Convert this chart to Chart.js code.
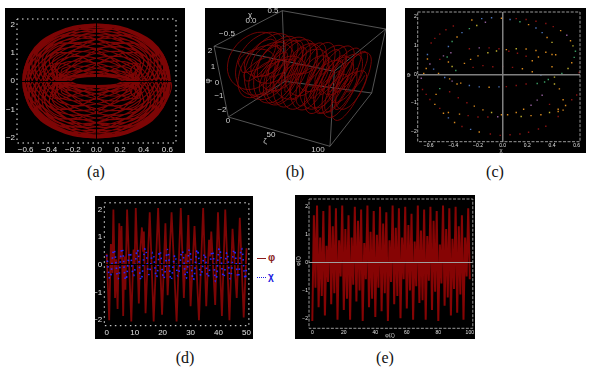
<!DOCTYPE html>
<html>
<head>
<meta charset="utf-8">
<style>
  html, body { margin: 0; background: #fff; }
  body { position: relative; width: 590px; height: 370px; overflow: hidden; }
  canvas { position: absolute; background: #000; filter: blur(0.4px); }
  .cap { position: absolute; transform: translate(-50%, -50%); font: 16px "Liberation Serif", serif; color: #111; }
  .key { position: absolute; font: bold 10px "Liberation Sans", sans-serif; }
  .dash { position: absolute; height: 0; width: 9px; }
</style>
</head>
<body>
<canvas id="panelA" width="180" height="145" style="left:5px;top:8px"></canvas>
<canvas id="panelB" width="181" height="145" style="left:205px;top:8px"></canvas>
<canvas id="panelC" width="181" height="145" style="left:405px;top:8px"></canvas>
<canvas id="panelD" width="158" height="143" style="left:95px;top:196px"></canvas>
<canvas id="panelE" width="180" height="144" style="left:295px;top:195px"></canvas>

<div class="cap" style="left:96px;top:172px">(a)</div>
<div class="cap" style="left:295px;top:172px">(b)</div>
<div class="cap" style="left:495px;top:172px">(c)</div>
<div class="cap" style="left:185px;top:358px">(d)</div>
<div class="cap" style="left:385px;top:358px">(e)</div>

<div class="dash" style="left:257px;top:258px;border-top:1.5px solid #8a1c1c"></div>
<div class="key" style="left:268px;top:252px;color:#8a1c1c">φ</div>
<div class="dash" style="left:257px;top:277px;border-top:1.5px dotted #2020e0"></div>
<div class="key" style="left:268px;top:271px;color:#2020e0">χ</div>

<script src="https://cdn.jsdelivr.net/npm/chart.js@4/dist/chart.umd.min.js"></script>
<script>
// trajectory, one sample after another, three passes
var chiFirst = [
  .62,.53,.27,-.06,-.37,-.56,-.57,-.40,-.13,.18,.40,.49,.42,.21,-.04,-.26,-.37,-.34,-.31,.02,.20,.30,.31,.15,-.07,-.31,-.33,-.29,-.13,.10,.31,.43,.40,.22,-.04,-.32,-.50,-.54,-.40,-.12,.20,.48,.61,.55,.33,0,
  -.33,-.55,-.61,-.48,-.20,.12,.40,.54,.50,.32,.04,-.22,-.40,-.43,-.31,-.10,.13,.29,.33,.31,.07,-.15,-.31,-.30,-.20,-.02,.31,.34,.37,.26,.04,-.21,-.42,-.49,-.40,-.18,.13,.40,.57,.56,.37,.06,-.27,-.53,-.62,
  -.53,-.27,.06,.37,.56,.57,.40,.13,-.18,-.40,-.49,-.42,-.21,.04,.26,.37,.34,.31,-.02,-.20,-.30,-.31,-.15,.07,.31,.33,.29,.13,-.10,-.31,-.43,-.40,-.22,.04,.32,.50,.54,.40,.12,-.20,-.48,-.61,-.55,-.33,0,
  .33,.55,.61,.48,.20,-.12,-.40,-.54,-.50,-.32,-.04,.22,.40,.43,.31,.10,-.13,-.29,-.33,-.31,-.07,.15,.31,.30,.20,.02,-.31,-.34,-.37,-.26,-.04,.21,.42,.49,.40,.18,-.13,-.40,-.57,-.56,-.37,-.06,.27,.53,.62
];
var phiFirst = [
  0,1.00,1.72,1.96,1.65,.91,-.04,-.92,-1.50,-1.62,-1.30,-.66,.07,.68,1.01,1.00,.72,.29,-.04,-.33,-.35,-.21,-.01,.17,.17,-.06,-.37,-.62,-.70,-.52,-.09,.49,1.03,1.34,1.28,.82,.06,-.80,-1.51,-1.83,-1.65,-.99,-.02,.98,1.72,2.00,
  1.72,.98,-.02,-.99,-1.65,-1.83,-1.51,-.80,.06,.82,1.28,1.34,1.03,.49,-.09,-.52,-.70,-.62,-.37,-.06,.17,.17,-.01,-.21,-.35,-.33,-.04,.29,.72,1.00,1.01,.68,.07,-.66,-1.30,-1.62,-1.50,-.92,-.04,.91,1.65,1.96,1.72,1.00,0,
  -1.00,-1.72,-1.96,-1.65,-.91,.04,.92,1.50,1.62,1.30,.66,-.07,-.68,-1.01,-1.00,-.72,-.29,.04,.33,.35,.21,.01,-.17,-.17,.06,.37,.62,.70,.52,.09,-.49,-1.03,-1.34,-1.28,-.82,-.06,.80,1.51,1.83,1.65,.99,.02,-.98,-1.72,-2.00,
  -1.72,-.98,.02,.99,1.65,1.83,1.51,.80,-.06,-.82,-1.28,-1.34,-1.03,-.49,.09,.52,.70,.62,.37,.06,-.17,-.17,.01,.21,.35,.33,.04,-.29,-.72,-1.00,-1.01,-.68,-.07,.66,1.30,1.62,1.50,.92,.04,-.91,-1.65,-1.96,-1.72,-1.00,0
];
var chiSecond = [
  .55,.34,.06,-.23,-.45,-.57,-.54,-.40,-.18,.07,.28,.41,.45,.39,.26,.10,-.06,-.22,-.31,-.31,-.30,-.25,-.17,-.07,.05,.18,.29,.36,.37,.31,.18,-.01,-.22,-.40,-.51,-.50,-.38,-.15,.12,.38,.56,.61,.51,.29,0,
  -.29,-.51,-.61,-.56,-.38,-.12,.15,.38,.50,.51,.40,.22,.01,-.18,-.31,-.37,-.36,-.29,-.18,-.05,.07,.17,.25,.30,.31,.31,.22,.06,-.10,-.26,-.39,-.45,-.41,-.28,-.07,.18,.40,.54,.57,.45,.23,-.06,-.34,-.55,-.62,
  -.55,-.34,-.06,.23,.45,.57,.54,.40,.18,-.07,-.28,-.41,-.45,-.39,-.26,-.10,.06,.22,.31,.31,.30,.25,.17,.07,-.05,-.18,-.29,-.36,-.37,-.31,-.18,.01,.22,.40,.51,.50,.38,.15,-.12,-.38,-.56,-.61,-.51,-.29,0,
  .29,.51,.61,.56,.38,.12,-.15,-.38,-.50,-.51,-.40,-.22,-.01,.18,.31,.37,.36,.29,.18,.05,-.07,-.17,-.25,-.30,-.31,-.31,-.22,-.06,.10,.26,.39,.45,.41,.28,.07,-.18,-.40,-.54,-.57,-.45,-.23,.06,.34,.55,.62
];
var phiSecond = [
  .99,1.71,1.96,1.68,.97,.04,-.84,-1.44,-1.62,-1.36,-.78,-.07,.55,.93,1.00,.80,.45,.17,-.12,-.25,-.21,-.17,-.17,-.17,-.26,-.47,-.62,-.60,-.36,.09,.63,1.11,1.34,1.21,.71,-.06,-.89,-1.55,-1.83,-1.61,-.94,.02,1.00,1.73,2.00,
  1.73,1.00,.02,-.94,-1.61,-1.83,-1.55,-.89,-.06,.71,1.21,1.34,1.11,.63,.09,-.36,-.60,-.62,-.47,-.26,-.17,-.17,-.17,-.21,-.25,-.12,.17,.45,.80,1.00,.93,.55,-.07,-.78,-1.36,-1.62,-1.44,-.84,.04,.97,1.68,1.96,1.71,.99,0,
  -.99,-1.71,-1.96,-1.68,-.97,-.04,.84,1.44,1.62,1.36,.78,.07,-.55,-.93,-1.00,-.80,-.45,-.17,.12,.25,.21,.17,.17,.17,.26,.47,.62,.60,.36,-.09,-.63,-1.11,-1.34,-1.21,-.71,.06,.89,1.55,1.83,1.61,.94,-.02,-1.00,-1.73,-2.00,
  -1.73,-1.00,-.02,.94,1.61,1.83,1.55,.89,.06,-.71,-1.21,-1.34,-1.11,-.63,-.09,.36,.60,.62,.47,.26,.17,.17,.17,.21,.25,.12,-.17,-.45,-.80,-1.00,-.93,-.55,.07,.78,1.36,1.62,1.44,.84,-.04,-.97,-1.68,-1.96,-1.71,-.99,0
];
var chiThird = [
  .30,.24,.07,-.13,-.29,-.35,-.27,-.08,.16,.36,.46,.40,.20,-.08,-.36,-.54,-.55,-.38,-.09,.24,.50,.62,.54,.30,-.03,-.35,-.56,-.59,-.44,-.17,.15,.40,.52,.46,.27,0,-.24,-.39,-.38,-.31,-.04,.17,.29,.30,.30,0,
  -.30,-.30,-.29,-.17,.04,.31,.38,.39,.24,0,-.27,-.46,-.52,-.40,-.15,.17,.44,.59,.56,.35,.03,-.30,-.54,-.62,-.50,-.24,.09,.38,.55,.54,.36,.08,-.20,-.40,-.46,-.36,-.16,.08,.27,.35,.29,.13,-.07,-.24,-.30,
  -.24,-.07,.13,.29,.35,.27,.08,-.16,-.36,-.46,-.40,-.20,.08,.36,.54,.55,.38,.09,-.24,-.50,-.62,-.54,-.30,.03,.35,.56,.59,.44,.17,-.15,-.40,-.52,-.46,-.27,0,.24,.39,.38,.31,.04,-.17,-.29,-.30,-.30,0,
  .30,.30,.29,.17,-.04,-.31,-.38,-.39,-.24,0,.27,.46,.52,.40,.15,-.17,-.44,-.59,-.56,-.35,-.03,.30,.54,.62,.50,.24,-.09,-.38,-.55,-.54,-.36,-.08,.20,.40,.46,.36,.16,-.08,-.27,-.35,-.29,-.13,.07,.24,.30
];
var phiThird = [
  0,.17,.22,.17,-.19,-.55,-.81,-.86,-.60,-.08,.58,1.17,1.49,1.40,.88,.05,-.86,-1.59,-1.90,-1.69,-1.00,-.01,1.00,1.73,1.99,1.70,.95,-.03,-.96,-1.58,-1.73,-1.41,-.74,.07,.76,1.15,1.18,.88,.39,-.09,-.42,-.53,-.42,-.19,0,.16,
  0,-.19,-.42,-.53,-.42,-.09,.39,.88,1.18,1.15,.76,.07,-.74,-1.41,-1.73,-1.58,-.96,-.03,.95,1.70,1.99,1.73,1.00,-.01,-1.00,-1.69,-1.90,-1.59,-.86,.05,.88,1.40,1.49,1.17,.58,-.08,-.60,-.86,-.81,-.55,-.19,.17,.22,.17,0,
  -.17,-.22,-.17,.19,.55,.81,.86,.60,.08,-.58,-1.17,-1.49,-1.40,-.88,-.05,.86,1.59,1.90,1.69,1.00,.01,-1.00,-1.73,-1.99,-1.70,-.95,.03,.96,1.58,1.73,1.41,.74,-.07,-.76,-1.15,-1.18,-.88,-.39,.09,.42,.53,.42,.19,0,-.16,
  0,.19,.42,.53,.42,.09,-.39,-.88,-1.18,-1.15,-.76,-.07,.74,1.41,1.73,1.58,.96,.03,-.95,-1.70,-1.99,-1.73,-1.00,.01,1.00,1.69,1.90,1.59,.86,-.05,-.88,-1.40,-1.49,-1.17,-.58,.08,.60,.86,.81,.55,.19,-.17,-.22,-.17,0
];
var chiTrace = chiFirst.concat(chiSecond, chiThird);
var phiTrace = phiFirst.concat(phiSecond, phiThird);

// outer edge of panel (a)
var edgeChi = [.62,.60,.545,.40,.22,0,-.22,-.40,-.545,-.60,-.62,-.60,-.545,-.40,-.22,0,.22,.40,.545,.60,.62];
var edgePhi = [0,.5,1,1.5,1.85,1.99,1.85,1.5,1,.5,0,-.5,-1,-1.5,-1.85,-1.99,-1.85,-1.5,-1,-.5,0];
// small rings around the two foci of panel (a)
var ringChi = [
  [-.365,-.372,-.39,-.408,-.415,-.408,-.39,-.372,-.365],
  [-.33,-.348,-.39,-.432,-.45,-.432,-.39,-.348,-.33],
  [.355,.348,.33,.312,.305,.312,.33,.348,.355],
  [.39,.372,.33,.288,.27,.288,.33,.372,.39]
];
var ringPhi = [
  [0,.2,.28,.2,0,-.2,-.28,-.2,0],
  [0,.39,.55,.39,0,-.39,-.55,-.39,0],
  [0,.2,.28,.2,0,-.2,-.28,-.2,0],
  [0,.39,.55,.39,0,-.39,-.55,-.39,0]
];

// panel (c) section points, [chi, phi], one list per colour
var sectionRed = [[.11,1.94],[.19,1.91],[.27,1.85],[.35,1.77],[.41,1.66],[-.40,1.68],[-.46,1.55],[-.51,1.40],[-.55,1.25],[-.58,1.09],[-.51,.52],[-.27,.89],[-.11,.92],[-.03,.89],[.05,.80],[.12,.73],[.19,.63],[-.24,.24],[-.16,.30],[-.08,.26],[0,.27],[.08,.24],[.62,.06],[-.65,-.53],[-.62,-.70],[-.59,-.88],[-.51,-1.19],[-.33,-1.82],[-.10,-2.08],[-.02,-2.13],[.06,-2.11],[.14,-2.08],[.21,-2.02],[.29,-1.91],[.35,-1.81],[.45,-1.47],[.56,-.89],[.60,-.72],[.03,-.43],[.11,-.39],[.19,-.34],[-.28,-1.44],[-.20,-1.49],[-.12,-1.49],[-.29,-.99],[-.36,-.82],[-.43,-.61],[.38,-1.05]];
var sectionOrange = [[-.25,1.89],[-.01,1.95],[-.37,1.30],[.21,1.73],[.36,1.28],[.47,1.52],[.55,1.17],[-.61,.53],[-.52,.03],[-.64,.03],[-.62,.20],[.03,.86],[.19,.88],[.27,.83],[.35,.77],[.40,.69],[.43,.68],[-.44,.43],[-.31,.38],[-.26,.52],[-.20,.64],[.24,.47],[.29,.60],[.40,.26],[.56,.40],[.16,.19],[.24,.09],[-.55,-1.05],[-.48,-1.36],[-.39,-1.68],[-.19,-2.01],[.49,-1.25],[.51,-1.09],[.49,-.89],[.46,-.51],[-.43,-.16],[-.37,-.34],[-.34,-.31],[-.11,-.45],[-.54,-.70],[-.44,-1.33],[-.35,-1.39],[-.16,-1.24],[-.23,-1.11],[-.01,-1.41],[.04,-1.41],[.23,-1.44],[.31,-1.41],[.45,-1.30],[.45,-1.22],[.17,-1.22],[.11,-1.33]];
var sectionBlue = [[-.17,1.94],[-.09,1.97],[.06,1.91],[-.33,1.45],[-.44,.97],[.27,1.61],[.32,1.45],[-.61,.69],[-.56,.18],[-.44,-1.52],[-.26,-1.92],[-.47,-.11],[-.27,-.39],[-.19,-.44],[-.03,-.44],[.31,-.03]];
var sectionPurple = [[-.14,1.81],[-.59,.36],[-.48,.64],[-.42,.75],[-.19,.92],[.52,1.36],[-.66,-.14],[-.41,-.24],[-.04,-1.48],[.32,-.73],[.28,-.90],[.23,-1.08]];
var sectionGreen = [[-.27,1.59],[-.41,1.14],[.14,1.83],[.59,.80],[.58,.59],[-.45,.60],[-.38,.13],[.48,.03],[.28,-.32],[.34,-.27],[-.51,-.50],[.37,-.18]];
var sectionOlive = [[-.21,1.70],[.40,1.11],[.57,.99],[.11,.89],[-.41,.27],[-.12,.75],[-.05,.81],[.53,.20],[.42,-.34],[.42,-.10],[-.09,-1.33],[.15,-1.47],[.38,-1.33]];

// panel (d) turning points
var phiTimes = [0,.9,1.5,2,2.4,3,3.4,3.9,4.5,4.9,5.3,5.9,6.3,6.7,7.3,8.8,9.6,10,10.4,11.5,12,12.6,13,13.3,13.9,15.4,16.8,18.4,19.8,21,21.8,23.2,25,26.5,27.6,28.2,28.6,29.2,30,31.4,33,34.5,35.6,36.6,37,37.4,38.8,39.8,41.2,42.4,43.9,45,46.5,47.6,49,50];
var phiValues = [.4,-2,.75,-.3,2,-1.2,.2,-1.6,1.5,.2,1.4,-1.85,.3,-.9,2,-2.05,.55,0,2.05,-1.4,.5,1.35,.5,1.2,-1.75,1.9,-2.05,2.05,-1.8,1.5,-1.1,1.9,-2.05,2.05,-1.2,.4,-.2,1.8,-1.5,1.4,-2,2.05,-1.5,.9,.3,1.2,-1.45,1.9,-1.85,2,-2,1.3,-1.2,1.7,-1.9,.6];
var chiTimes = [0,1.2,2.6,4.1,5.5,6.8,8.3,9.6,11,12.3,13.8,15.1,16.5,17.8,19,20.4,21.8,23,24.4,25.5,27,28.4,29.6,31,32.4,33.7,35,36.2,37.8,39,40.3,41.8,43,44.2,45.6,47,48.2,49.5,50];
var chiValues = [.35,-.5,.55,-.5,.6,-.55,.45,-.4,.55,-.55,.6,-.35,.45,-.45,.5,-.5,.55,-.55,.35,-.4,.5,-.5,.55,-.55,.55,-.4,.4,-.45,.5,-.6,.6,-.45,.45,-.5,.55,-.45,.6,-.5,-.1];

// panel (e), one value per unit of zeta
var longPhi = [
  -2.1,1.7,-.9,2.05,-1.6,.9,-1.2,1.85,-1.9,.6,-.7,2.05,
  -1.5,1.3,-1.1,1.95,-2.05,.8,-.5,2.05,-1.7,1.2,-1.3,1.7,
  -2.05,.9,-.8,2,-1.4,1.5,-1,1.9,-2.1,.7,-.6,2.05,
  -1.6,1.1,-1.3,1.85,-1.95,1,-.9,2,-1.75,1.4,-1.1,1.8,
  -2.1,.8,-.7,2.05,-1.5,1.25,-1.2,1.95,-2,.9,-.6,2,
  -1.65,1.35,-1,1.75,-2.05,.75,-.85,2.05,-1.45,1.15,-1.35,1.9,
  -2.05,.95,-.65,2,-1.7,1.5,-1.05,1.85,-2.1,.65,-.75,2.05,
  -1.55,1.2,-1.25,1.95,-1.9,.85,-.95,2,-1.8,1.3,-1.15,1.7,
  -2.05,.9,-.5,1.95,-.6
];

var chiTicksA = [-.6,-.4,-.2,0,.2,.4,.6];
var chiLabelsA = ['−0.6','−0.4','−0.2','0.0','0.2','0.4','0.6'];
var phiTicks = [-2,-1,0,1,2];
var phiLabels = ['−2','−1','0','1','2'];
var zetaTicksD = [0,10,20,30,40,50];
var zetaTicksE = [0,20,40,60,80,100];

var RED = '#7d0505';
var DOT = '#8a1212';

function pairs(xs, ys) {
  return xs.map(function (x, i) { return { x: x, y: ys[i] }; });
}
function curve(points, width, extra) {
  return Object.assign({ data: points, showLine: true, borderColor: RED, borderWidth: width, pointRadius: 0, tension: 0 }, extra || {});
}
function dots(points, color) {
  return { data: points.map(function (p) { return { x: p[0], y: p[1] }; }), pointStyle: 'rect', pointRadius: 1, pointBorderWidth: 0, pointBackgroundColor: color, showLine: false };
}

// fixes the plot rectangle, draws the dotted frame and any loose labels
function panel(id, c) {
  var canvas = document.getElementById(id);
  var area = c.area;
  var framePlugin = {
    id: 'frame',
    afterDraw: function (chart) {
      var ctx = chart.ctx;
      ctx.save();
      if (c.frame) {
        var a = chart.chartArea;
        ctx.strokeStyle = c.frame.color;
        ctx.lineWidth = c.frame.width;
        ctx.setLineDash(c.frame.dash);
        ctx.strokeRect(a.left, a.top, a.right - a.left, a.bottom - a.top);
        ctx.setLineDash([]);
      }
      (c.notes || []).forEach(function (n) {
        ctx.save();
        ctx.translate(n.x, n.y);
        if (n.rot) ctx.rotate(n.rot);
        ctx.font = n.font || '8px "Liberation Sans"';
        ctx.fillStyle = n.color || '#cfcfcf';
        ctx.textAlign = 'center';
        ctx.textBaseline = 'middle';
        ctx.fillText(n.t, 0, 0);
        ctx.restore();
      });
      ctx.restore();
    }
  };
  function axis(s, side) {
    var zero = s.zero || 'transparent';
    var o = {
      type: 'linear', min: s.min, max: s.max, reverse: !!s.reverse,
      display: s.display !== false,
      border: { display: false },
      grid: {
        z: 1, drawTicks: false, lineWidth: s.zeroWidth || 1,
        color: function (g) { return g.tick && g.tick.value === 0 ? zero : 'transparent'; }
      },
      ticks: {
        autoSkip: false, maxRotation: 0, minRotation: 0, padding: s.pad === undefined ? 2 : s.pad, color: s.tickColor || '#e0e0e0',
        font: { family: 'Liberation Sans', size: s.size || 8 },
        callback: function (v, i) { return s.labels ? s.labels[i] : v; }
      },
      afterFit: function (scale) {
        if (side === 'x') scale.height = canvas.height - area.bottom;
        else scale.width = area.left;
      }
    };
    if (s.ticks) o.afterBuildTicks = function (scale) { scale.ticks = s.ticks.map(function (v) { return { value: v }; }); };
    return o;
  }
  new Chart(canvas, {
    type: 'scatter',
    data: { datasets: c.datasets },
    plugins: [framePlugin],
    options: {
      responsive: false,
      animation: false,
      layout: { autoPadding: false, padding: { left: 0, top: area.top, right: canvas.width - area.right, bottom: 0 } },
      plugins: { legend: { display: false }, tooltip: { enabled: false } },
      scales: { x: axis(c.x, 'x'), y: axis(c.y, 'y') }
    }
  });
}

// --- (a)
var ringsA = ringChi.map(function (r, i) { return curve(pairs(r, ringPhi[i]), 1.2, { tension: .4 }); });
panel('panelA', {
  area: { left: 12, right: 171, top: 11, bottom: 135 },
  frame: { color: '#f0f0f0', width: 1, dash: [1.5, 3.5] },
  x: { min: -.673, max: .673, ticks: chiTicksA, labels: chiLabelsA, zero: '#000' },
  y: { min: -2.19, max: 2.19, ticks: phiTicks, labels: phiLabels, zero: '#000' },
  datasets: [curve(pairs(chiTrace, phiTrace), 1.15, { tension: .4 }), curve(pairs(edgeChi, edgePhi), 2.4, { tension: .4 })].concat(ringsA)
});

// --- (b) the box is a perspective view, so each corner gets a spot in the panel
var corners = {
  '000': [9, 38.3], '010': [77.3, 2.7], '100': [129.3, 63.3], '110': [180.7, 21],
  '001': [23.3, 109], '011': [80, 73.3], '101': [125, 138.3], '111': [166.7, 85]
};
function project(zeta, chi, phi) {
  var u = zeta / 100, v = (chi + .75) / 1.5, w = (2.4 - phi) / 4.8;
  var out = [0, 0];
  [0, 1].forEach(function (a) {
    [0, 1].forEach(function (b) {
      [0, 1].forEach(function (d) {
        var k = (a ? u : 1 - u) * (b ? v : 1 - v) * (d ? w : 1 - w);
        var p = corners['' + a + b + d];
        out[0] += k * p[0];
        out[1] += k * p[1];
      });
    });
  });
  return { x: out[0], y: out[1] };
}
var boxEdges = [['000','010'],['010','110'],['110','100'],['100','000'],['001','101'],['101','111'],['111','011'],['011','001'],['000','001'],['100','101'],['110','111'],['010','011']];
var boxLines = boxEdges.map(function (e) {
  var p = corners[e[0]], q = corners[e[1]];
  return curve([{ x: p[0], y: p[1] }, { x: q[0], y: q[1] }], .7, { borderColor: '#777', order: 2 });
});
var helix = chiTrace.map(function (chi, i) { return project(i * 100 / (chiTrace.length - 1), chi, phiTrace[i]); });
panel('panelB', {
  area: { left: 0, right: 181, top: 0, bottom: 145 },
  x: { min: 0, max: 181, display: false },
  y: { min: 0, max: 145, reverse: true, display: false },
  notes: [
    { t: 'χ', x: 45, y: 7 }, { t: '0.5', x: 68, y: 3 }, { t: '0.0', x: 46, y: 13 }, { t: '−0.5', x: 22, y: 26 },
    { t: '2', x: 5, y: 43 }, { t: '1', x: 8, y: 59 }, { t: '0', x: 12, y: 75 }, { t: '−1', x: 14, y: 88 }, { t: '−2', x: 17, y: 102 },
    { t: 'φ', x: 3, y: 73, rot: -Math.PI / 2 },
    { t: '0', x: 23, y: 113 }, { t: '50', x: 66, y: 127 }, { t: '100', x: 113, y: 142 }, { t: 'ζ', x: 60, y: 133 }
  ],
  datasets: [curve(helix, .9, { tension: .4, order: 1 })].concat(boxLines)
});

// --- (c)
panel('panelC', {
  area: { left: 12.7, right: 175, top: 1, bottom: 133.7 },
  frame: { color: '#999', width: 1, dash: [3, 1.5] },
  x: { min: -.689, max: .627, ticks: chiTicksA, labels: chiLabelsA, zero: '#808080', zeroWidth: 1.5, size: 5, pad: 1 },
  y: { min: -2.35, max: 2.17, ticks: phiTicks, labels: phiLabels, zero: '#808080', zeroWidth: 1.5, size: 5, pad: 1 },
  notes: [{ t: 'χ', x: 96, y: 142, font: '6px "Liberation Sans"' }, { t: 'φ', x: 3, y: 67, rot: -Math.PI / 2, font: '6px "Liberation Sans"' }],
  datasets: [
    dots(sectionRed, DOT), dots(sectionOrange, '#d88a1e'), dots(sectionBlue, '#4a72b8'),
    dots(sectionPurple, '#8f5c98'), dots(sectionGreen, '#3a9c62'), dots(sectionOlive, '#bcae30')
  ]
});

// --- (d)
panel('panelD', {
  area: { left: 9.3, right: 155.7, top: 0.7, bottom: 129.7 },
  frame: { color: '#f0f0f0', width: 1, dash: [1.5, 3.5] },
  x: { min: -.85, max: 50.85, ticks: zetaTicksD },
  y: { min: -2.2, max: 2.24, ticks: phiTicks, labels: phiLabels, zero: '#000' },
  datasets: [
    curve(pairs(chiTimes, chiValues), 1.7, { borderColor: '#2626ff', borderDash: [1.5, 4], tension: .4, order: 0 }),
    curve(pairs(phiTimes, phiValues), 1.8, { order: 1 })
  ]
});

// --- (e)
panel('panelE', {
  area: { left: 14, right: 178, top: 2.3, bottom: 133.3 },
  frame: { color: '#999', width: 1, dash: [3, 1.5] },
  x: { min: -2.1, max: 101.9, ticks: zetaTicksE, size: 5, pad: 1 },
  y: { min: -2.36, max: 2.28, ticks: phiTicks, labels: phiLabels, zero: '#a0a0a0', size: 5, pad: 1 },
  notes: [{ t: 'φ(ζ)', x: 95, y: 140, font: '5.5px "Liberation Sans"' }, { t: 'φ(ζ)', x: 3, y: 66, rot: -Math.PI / 2, font: '5.5px "Liberation Sans"' }],
  datasets: [curve(longPhi.map(function (v, i) { return { x: i, y: v }; }), 2, { borderColor: '#860404' })]
});
</script>
</body>
</html>
